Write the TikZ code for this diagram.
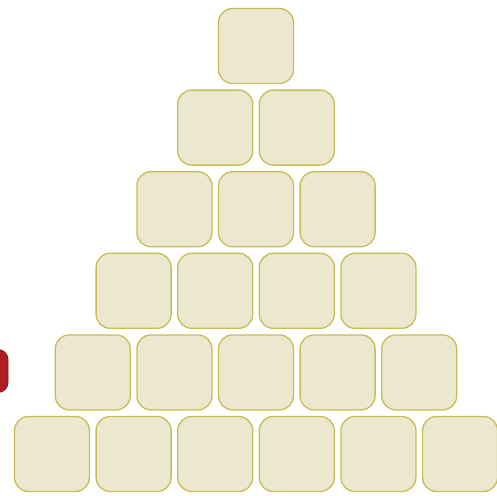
\documentclass[tikz,border=0pt]{standalone}
\usepackage{tikz}
\definecolor{boxfill}{RGB}{236,232,208}
\definecolor{boxline}{RGB}{198,190,84}
\definecolor{redbox}{RGB}{176,28,34}
\begin{document}
\begin{tikzpicture}[x=1pt,y=-1pt,
  tile/.style={draw=boxline,fill=boxfill,line width=1.3pt,rounded corners=14pt,minimum width=75pt,minimum height=75pt,inner sep=0pt},
  redtile/.style={draw=redbox!80!black,fill=redbox,line width=0.8pt,rounded corners=10pt,minimum width=48pt,minimum height=43pt,inner sep=0pt}]
\useasboundingbox (0,0) rectangle (497,495);
\clip (0,0) rectangle (497,495);
\foreach \r in {1,...,6}{
  \foreach \c in {1,...,\r}{
    \node[tile] (t\r-\c) at ({256-(\r-1)*40.8+(\c-1)*81.6},{46+(\r-1)*81.6}) {};
  }
}
\node[redtile] (red) at (-16,371) {};
\end{tikzpicture}
\end{document}
